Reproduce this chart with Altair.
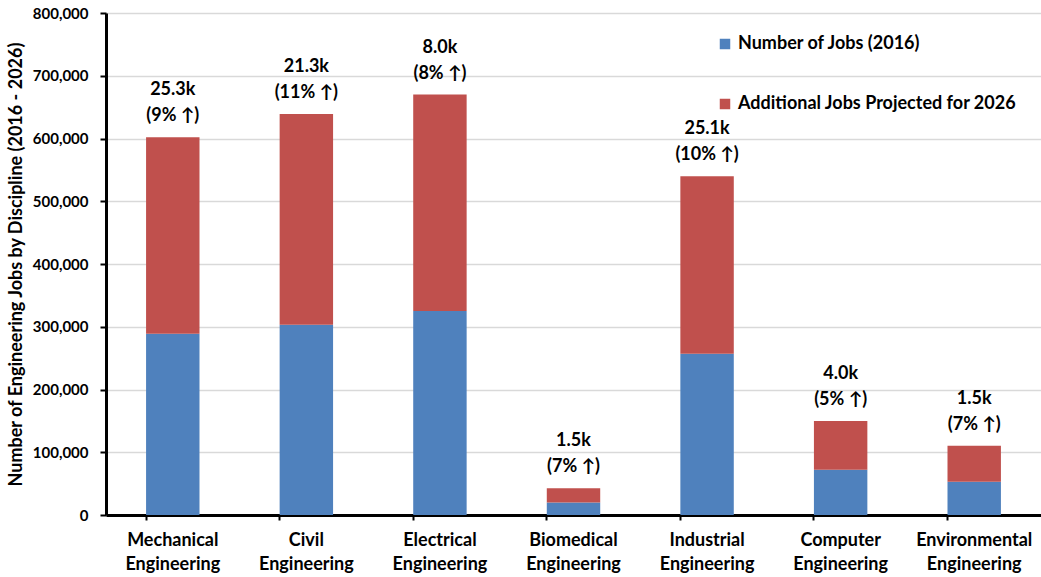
import altair as alt
import pandas as pd

categories = ["Mechanical Engineering", "Civil Engineering", "Electrical Engineering",
              "Biomedical Engineering", "Industrial Engineering", "Computer Engineering",
              "Environmental Engineering"]
jobs_2016 = [289000, 303000, 325000, 20000, 257000, 72000, 53000]
additional_2026 = [313000, 336000, 345000, 22500, 283000, 78000, 57500]
growth_k = ["25.3k", "21.3k", "8.0k", "1.5k", "25.1k", "4.0k", "1.5k"]
growth_pct = ["9%", "11%", "8%", "7%", "10%", "5%", "7%"]

s1 = "Number of Jobs (2016)"
s2 = "Additional Jobs Projected for 2026"

rows = []
for c, a, b in zip(categories, jobs_2016, additional_2026):
    rows.append({"cat": c, "series": s1, "value": a, "ord": 0})
    rows.append({"cat": c, "series": s2, "value": b, "ord": 1})
df = pd.DataFrame(rows)

lab = pd.DataFrame({
    "cat": categories,
    "total": [a + b for a, b in zip(jobs_2016, additional_2026)],
    "label": [f"{k}\n({p} \u2191)" for k, p in zip(growth_k, growth_pct)],
})

FONT = "Lato"

xenc = alt.X("cat:N", sort=categories, title=None,
             scale=alt.Scale(paddingInner=0.6, paddingOuter=0.3),
             axis=alt.Axis(labelExpr="split(datum.label, ' ')", labelAngle=0,
                           labelFont=FONT, labelFontWeight="bold", labelFontSize=18,
                           labelColor="black", labelLineHeight=24, labelPadding=11,
                           labelLimit=0,
                           bandPosition=0, tickColor="black", tickSize=5, tickWidth=2,
                           domainColor="black", domainWidth=3, grid=False))

bars = alt.Chart(df).mark_bar().encode(
    x=xenc,
    y=alt.Y("value:Q", stack="zero",
            scale=alt.Scale(domain=[0, 800000]),
            title="Number of Engineering Jobs by Discipline (2016 - 2026)",
            axis=alt.Axis(values=list(range(0, 800001, 100000)), format=",d",
                          labelFont=FONT, labelFontWeight="bold", labelFontSize=15,
                          labelColor="black", labelPadding=12,
                          titleFont=FONT, titleFontWeight="bold", titleFontSize=18,
                          titleColor="black", titlePadding=7,
                          tickColor="black", tickSize=6, tickWidth=2,
                          domainColor="black", domainWidth=3,
                          gridColor="#d9d9d9", gridWidth=1.5)),
    color=alt.Color("series:N", sort=[s1, s2],
                    scale=alt.Scale(domain=[s1, s2], range=["#4F81BD", "#C0504D"]),
                    legend=alt.Legend(title=None, orient="none", legendX=610, legendY=22,
                                      symbolType="square", symbolSize=110,
                                      symbolStrokeWidth=0, symbolOpacity=1,
                                      labelFont=FONT, labelFontWeight="bold",
                                      labelFontSize=18, labelColor="black",
                                      labelLimit=0,
                                      rowPadding=42, labelOffset=4)),
    order=alt.Order("ord:Q"),
)

text = alt.Chart(lab).mark_text(
    baseline="bottom", align="center", dy=-38, lineBreak="\n", lineHeight=26,
    font=FONT, fontWeight="bold", fontSize=18, color="black"
).encode(
    x=alt.X("cat:N", sort=categories),
    y=alt.Y("total:Q"),
    text="label:N",
)

chart = alt.layer(bars, text).properties(
    width=935, height=502,
    padding={"left": 106, "top": 13, "right": 0, "bottom": 62},
    autosize=alt.AutoSizeParams(type="none"),
).configure_view(stroke=None).configure(background="white")

chart.save("out.html", embed_options={"renderer": "svg", "actions": False})
